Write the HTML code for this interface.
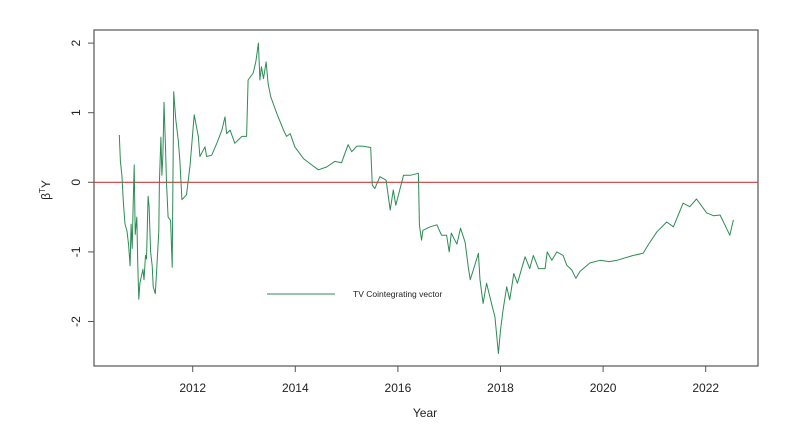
<!DOCTYPE html>
<html><head><meta charset="utf-8"><style>
body{margin:0;background:#fff}
svg{display:block;font-family:"Liberation Sans",Arial,sans-serif}
</style></head><body>
<svg id="chart" width="789" height="428" viewBox="0 0 789 428">
<rect x="94" y="30" width="664" height="336" fill="none" stroke="#555" stroke-width="1.2"/>
<g id="xaxis"></g>
<g id="yaxis"></g>
<line id="zero" stroke="#cd3b3b" stroke-width="1.2"/>
<path id="series" fill="none" stroke="#2e8b57" stroke-width="1" stroke-linejoin="round"/>
<text x="425" y="417" font-size="12" text-anchor="middle" fill="#222">Year</text>
<text transform="translate(50,190) rotate(-90)" font-size="12" text-anchor="middle" fill="#222">β<tspan dy="-5" font-size="8">T</tspan><tspan dy="5">Y</tspan></text>
<g>
<line x1="267" y1="294" x2="335" y2="294" stroke="#2e8b57" stroke-width="1"/>
<text x="353" y="297" font-size="8.5" fill="#222">TV Cointegrating vector</text>
</g>
</svg>
<script>
const xTicks=[2012,2014,2016,2018,2020,2022];
const yTicks=[-2,-1,0,1,2];
const years=[
2010.57,2010.59,2010.62,2010.65,2010.68,2010.72,2010.75,2010.78,2010.80,2010.82,
2010.84,2010.86,2010.88,2010.91,2010.93,2010.95,2010.97,2011.03,2011.05,2011.08,
2011.10,2011.13,2011.15,2011.18,2011.21,2011.23,2011.27,2011.31,2011.34,2011.35,
2011.38,2011.40,2011.42,2011.44,2011.47,2011.49,2011.52,2011.57,2011.60,2011.63,
2011.67,2011.72,2011.75,2011.79,2011.88,2011.95,2012.03,2012.11,2012.14,2012.24,
2012.27,2012.37,2012.47,2012.57,2012.63,2012.66,2012.73,2012.82,2012.96,2013.05,
2013.08,2013.18,2013.23,2013.28,2013.31,2013.34,2013.38,2013.43,2013.47,2013.52,
2013.64,2013.77,2013.83,2013.90,2013.99,2014.16,2014.32,2014.45,2014.61,2014.77,
2014.90,2015.03,2015.10,2015.20,2015.31,2015.47,2015.50,2015.55,2015.65,2015.77,
2015.85,2015.91,2015.96,2016.11,2016.24,2016.40,2016.42,2016.46,2016.49,2016.63,
2016.76,2016.85,2016.95,2017.00,2017.04,2017.15,2017.22,2017.31,2017.37,2017.41,
2017.47,2017.57,2017.60,2017.66,2017.73,2017.83,2017.89,2017.96,2018.00,2018.05,
2018.12,2018.18,2018.26,2018.33,2018.48,2018.57,2018.64,2018.74,2018.87,2018.91,
2019.00,2019.10,2019.22,2019.29,2019.39,2019.47,2019.55,2019.74,2019.94,2020.12,
2020.27,2020.59,2020.78,2020.88,2021.05,2021.24,2021.37,2021.56,2021.69,2021.82,
2022.02,2022.15,2022.28,2022.47,2022.54];
const values=[
0.68,0.3,0.1,-0.3,-0.6,-0.7,-0.9,-1.2,-0.6,-0.95,
-0.3,0.25,-0.75,-0.5,-1.2,-1.68,-1.45,-1.25,-1.4,-1.05,
-1.1,-0.2,-0.35,-1.0,-1.2,-1.5,-1.6,-1.1,-0.7,0.0,
0.65,0.1,0.4,1.15,0.5,0.0,-0.5,-0.55,-1.22,1.3,
0.9,0.6,0.3,-0.25,-0.18,0.25,0.97,0.66,0.37,0.51,
0.37,0.39,0.56,0.75,0.94,0.7,0.75,0.56,0.66,0.66,
1.47,1.57,1.73,2.0,1.47,1.66,1.49,1.73,1.42,1.23,
0.99,0.75,0.66,0.7,0.51,0.34,0.25,0.18,0.22,0.3,
0.28,0.54,0.44,0.52,0.52,0.5,-0.04,-0.09,0.08,0.03,
-0.4,-0.11,-0.33,0.1,0.1,0.13,-0.61,-0.83,-0.69,-0.64,
-0.61,-0.76,-0.76,-1.0,-0.73,-0.89,-0.66,-0.86,-1.21,-1.4,
-1.26,-1.02,-1.4,-1.74,-1.45,-1.76,-1.93,-2.46,-2.12,-1.83,
-1.5,-1.69,-1.31,-1.45,-1.07,-1.24,-1.05,-1.24,-1.24,-1.0,
-1.12,-1.0,-1.05,-1.19,-1.26,-1.38,-1.28,-1.16,-1.12,-1.14,
-1.12,-1.05,-1.02,-0.9,-0.71,-0.57,-0.64,-0.3,-0.35,-0.24,
-0.44,-0.48,-0.47,-0.76,-0.54];
const X0=94,X1=758,Y0=30,Y1=366;
const xs=y=>192.7+(y-2012)*51.3;
const ys=v=>182.3-v*69.6;
const NS="http://www.w3.org/2000/svg";
const xa=document.getElementById('xaxis'),ya=document.getElementById('yaxis');
xTicks.forEach(t=>{
 const l=document.createElementNS(NS,'line');
 l.setAttribute('x1',xs(t));l.setAttribute('x2',xs(t));l.setAttribute('y1',Y1);l.setAttribute('y2',Y1+6);
 l.setAttribute('stroke','#555');
 
 
 xa.appendChild(l);
 const tx=document.createElementNS(NS,'text');
 tx.setAttribute('x',xs(t));tx.setAttribute('y',392);tx.setAttribute('font-size','12');tx.setAttribute('text-anchor','middle');tx.setAttribute('fill','#222');
 tx.textContent=t;
 
 
 xa.appendChild(tx);
});
yTicks.forEach(t=>{
 const l=document.createElementNS(NS,'line');
 l.setAttribute('x1',88);l.setAttribute('x2',X0);l.setAttribute('y1',ys(t));l.setAttribute('y2',ys(t));
 l.setAttribute('stroke','#555');
 
 
 ya.appendChild(l);
 const tx=document.createElementNS(NS,'text');
 tx.setAttribute('transform','translate(80,'+ys(t)+') rotate(-90)');tx.setAttribute('font-size','12');tx.setAttribute('text-anchor','middle');tx.setAttribute('fill','#222');
 tx.textContent=t;
 
 
 ya.appendChild(tx);
});
const z=document.getElementById('zero');
z.setAttribute('x1',X0);z.setAttribute('x2',X1);z.setAttribute('y1',ys(0));z.setAttribute('y2',ys(0));
const n=Math.min(years.length,values.length);
let d='';
for(let i=0;i<n;i++){d+=(i?'L':'M')+xs(years[i]).toFixed(1)+' '+ys(values[i]).toFixed(1)+' ';}
document.getElementById('series').setAttribute('d',d);
</script>
</body></html>
